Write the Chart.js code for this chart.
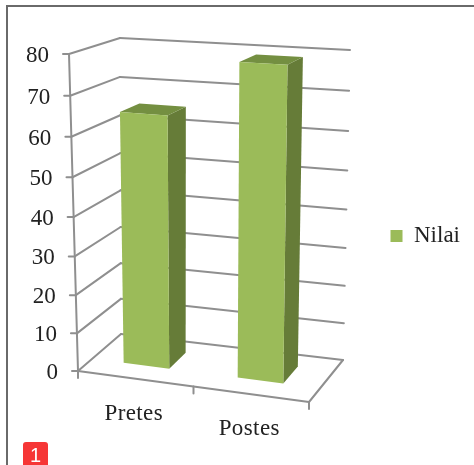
<!DOCTYPE html>
<html>
<head>
<meta charset="utf-8">
<style>
    html, body { margin: 0; padding: 0; background: #fff; overflow: hidden; }
    #wrap { position: relative; width: 474px; height: 465px; }
    #chart { position: absolute; left: 0; top: 0; filter: blur(0.4px); }
    #frame { position: absolute; left: 6px; top: 5px; right: 0; bottom: 0; border-top: 2px solid #6a6a6a; border-left: 2px solid #6a6a6a; }
    #badge { position: absolute; left: 23px; top: 442px; width: 25px; height: 23px; background: #f63636; border-radius: 3px 3px 0 0; color: #fff; font: 20px "Liberation Sans", sans-serif; text-align: center; line-height: 26px; overflow: hidden; }
</style>
</head>
<body>
<div id="wrap">
    <canvas id="chart" width="474" height="465"></canvas>
    <div id="frame"></div>
    <div id="badge">1</div>
</div>
<script src="https://cdn.jsdelivr.net/npm/chart.js@4/dist/chart.umd.min.js"></script>
<script>
const categories = ['Pretes', 'Postes'];
const nilaiValues = [65, 79];
const seriesName = 'Nilai';
const valueMax = 80;
const valueStep = 10;

const faceColor = '#9bbb59';
const sideColor = '#667c38';
const topColor = '#748f41';
const gridColor = '#8f8f8f';
const textColor = '#222';
const labelFont = '23px "Liberation Serif", serif';

// corners of the 3d box on screen: [x, y] for front/back, left/right, value 0/max
const box = {
    fl0: [78, 371], fl1: [69, 54],
    fr0: [309, 402], fr1: [315, 69],
    bl0: [121, 334], bl1: [120, 38],
    br0: [343, 360], br1: [350, 50]
};
const barDepth = [0.33, 0.74];
const barNudge = -0.012;
const perspective = 1.06;

function mix(a, b, t) {
    return [a[0] + (b[0] - a[0]) * t, a[1] + (b[1] - a[1]) * t];
}

// u: along the category axis, v: along the value axis, d: into the picture (all 0..1)
function project(u, v, d) {
    const h = v / (v + perspective * (1 - v));
    const front = mix(mix(box.fl0, box.fl1, h), mix(box.fr0, box.fr1, h), u);
    const back = mix(mix(box.bl0, box.bl1, h), mix(box.br0, box.br1, h), u);
    return mix(front, back, d);
}

function poly(ctx, points, fill) {
    ctx.beginPath();
    points.forEach((p, i) => i ? ctx.lineTo(p[0], p[1]) : ctx.moveTo(p[0], p[1]));
    ctx.closePath();
    ctx.fillStyle = fill;
    ctx.fill();
}

function line(ctx, a, b) {
    ctx.beginPath();
    ctx.moveTo(a[0], a[1]);
    ctx.lineTo(b[0], b[1]);
    ctx.stroke();
}

const bar3d = {
    id: 'bar3d',
    beforeDatasetsDraw(chart) {
        const ctx = chart.ctx;
        const area = chart.chartArea;
        const y = chart.scales.y;
        const toU = px => (px - area.left) / (area.right - area.left);
        const toV = px => (y.bottom - px) / (y.bottom - y.top);

        ctx.save();
        ctx.strokeStyle = gridColor;
        ctx.lineWidth = 2;
        ctx.lineCap = 'round';

        // walls and value axis
        y.ticks.forEach(t => {
            const v = toV(y.getPixelForValue(t.value));
            const start = project(0, v, 0);
            line(ctx, start, project(0, v, 1));
            line(ctx, project(0, v, 1), project(1, v, 1));
            line(ctx, [start[0] - 6, start[1]], start);
        });
        line(ctx, project(0, 0, 0), project(0, 1, 0));

        // floor
        line(ctx, project(0, 0, 0), project(1, 0, 0));
        line(ctx, project(1, 0, 0), project(1, 0, 1));
        [0, 0.5, 1].forEach(u => {
            const p = project(u, 0, 0);
            line(ctx, p, [p[0], p[1] + 7]);
        });

        // bars
        const [d0, d1] = barDepth;
        chart.getDatasetMeta(0).data.forEach(el => {
            const u0 = toU(el.x - el.width / 2) + barNudge;
            const u1 = toU(el.x + el.width / 2) + barNudge;
            const v = toV(el.y);
            poly(ctx, [project(u1, 0, d0), project(u1, v, d0), project(u1, v, d1), project(u1, 0, d1)], sideColor);
            poly(ctx, [project(u0, v, d0), project(u1, v, d0), project(u1, v, d1), project(u0, v, d1)], topColor);
            poly(ctx, [project(u0, 0, d0), project(u1, 0, d0), project(u1, v, d0), project(u0, v, d0)], faceColor);
        });

        // tick labels
        ctx.fillStyle = textColor;
        ctx.font = labelFont;
        ctx.textBaseline = 'middle';
        ctx.textAlign = 'right';
        y.ticks.forEach(t => {
            const p = project(0, toV(y.getPixelForValue(t.value)), 0);
            ctx.fillText(String(t.value), p[0] - 20, p[1] + 2);
        });
        ctx.textAlign = 'center';
        ctx.letterSpacing = '0.4px';
        const x = chart.scales.x;
        categories.forEach((c, i) => {
            const p = project(toU(x.getPixelForValue(i)), 0, 0);
            ctx.fillText(c, p[0] - 2, p[1] + 35);
        });
        ctx.restore();
        return false;
    }
};

new Chart(document.getElementById('chart'), {
    type: 'bar',
    data: {
        labels: categories,
        datasets: [{
            label: seriesName,
            data: nilaiValues,
            backgroundColor: faceColor,
            borderWidth: 0,
            barPercentage: 0.4,
            categoryPercentage: 1
        }]
    },
    options: {
        responsive: false,
        animation: false,
        layout: { padding: { left: 78, top: 54, bottom: 47, right: 4 } },
        plugins: {
            tooltip: { enabled: false },
            legend: {
                position: 'right',
                labels: {
                    boxWidth: 12,
                    boxHeight: 12,
                    color: textColor,
                    font: { family: '"Liberation Serif", serif', size: 23 }
                }
            }
        },
        scales: {
            x: {
                grid: { display: false },
                border: { display: false },
                ticks: { display: false },
                afterFit(scale) { scale.height = 47; }
            },
            y: {
                display: false,
                min: 0,
                max: valueMax,
                ticks: { stepSize: valueStep }
            }
        }
    },
    plugins: [bar3d]
});
</script>
</body>
</html>
